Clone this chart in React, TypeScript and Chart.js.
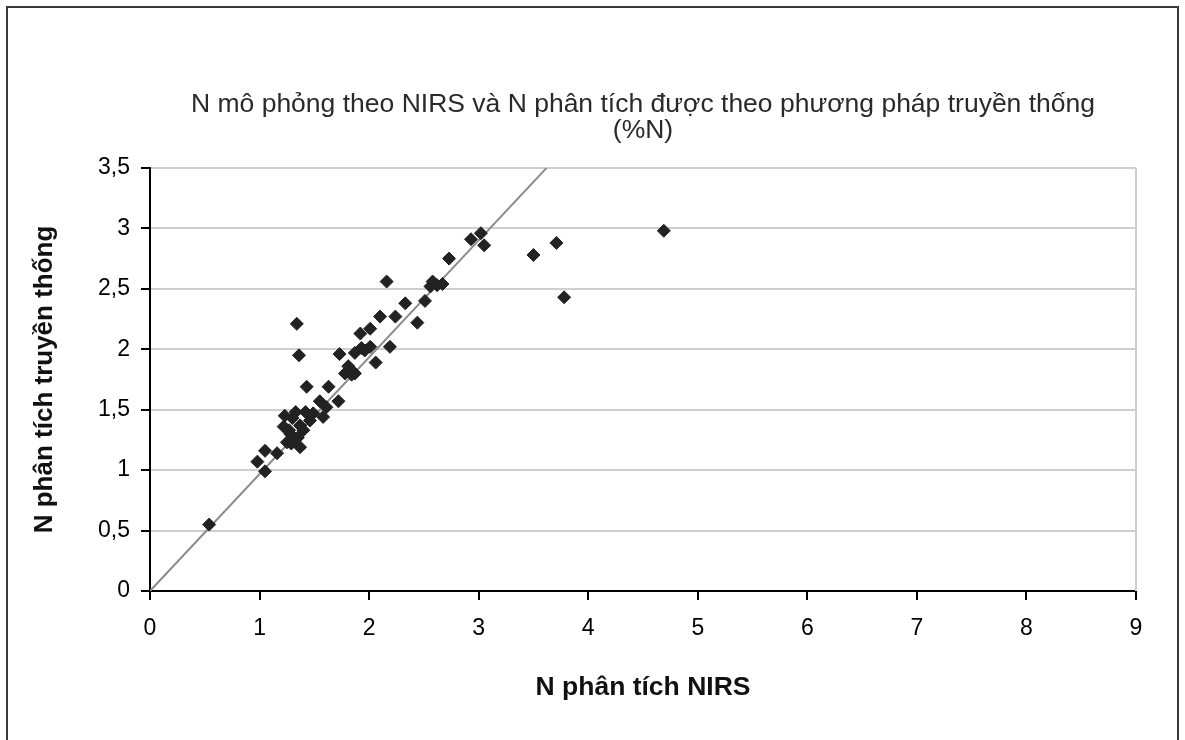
import React, { useEffect, useRef } from "react";
import { Chart, registerables } from "chart.js";

Chart.register(...registerables);

const chartTitle = [
  "N mô phỏng theo NIRS và N phân tích được theo phương pháp truyền thống",
  "(%N)",
];
const xAxisTitle = "N phân tích NIRS";
const yAxisTitle = "N phân tích truyền thống";

const nirsValues = [
  0.54, 0.98, 1.05, 1.05, 1.16, 1.22, 1.23, 1.25, 1.28, 1.31, 1.33, 1.37, 1.37, 1.4, 1.35,
  1.34, 1.36, 1.42, 1.43, 1.46, 1.49, 1.55, 1.58, 1.61, 1.63, 1.72, 1.73, 1.78, 1.81, 1.84,
  1.87, 1.87, 1.92, 1.93, 2.01, 2.01, 2.06, 2.1, 2.16, 2.19, 2.24, 2.33, 2.44, 2.51, 2.56,
  2.58, 2.62, 2.67, 2.73, 2.93, 3.02, 3.05, 3.5, 3.71, 3.78, 4.69, 1.29, 1.3, 1.96, 1.27,
];
const traditionalValues = [
  0.55, 1.07, 0.99, 1.16, 1.14, 1.36, 1.45, 1.23, 1.3, 1.25, 1.48, 1.19, 1.37, 1.33, 1.27,
  2.21, 1.95, 1.48, 1.69, 1.41, 1.47, 1.57, 1.44, 1.52, 1.69, 1.57, 1.96, 1.8, 1.86, 1.79,
  1.8, 1.97, 2.13, 2.01, 2.02, 2.17, 1.89, 2.27, 2.56, 2.02, 2.27, 2.38, 2.22, 2.4, 2.52,
  2.56, 2.53, 2.54, 2.75, 2.91, 2.96, 2.86, 2.78, 2.88, 2.43, 2.98, 1.22, 1.43, 1.99, 1.33,
];

const refLineX = [0, 3.62];
const refLineY = [0, 3.5];

const xTicks = [0, 1, 2, 3, 4, 5, 6, 7, 8, 9];
const yTicks = [0, 0.5, 1, 1.5, 2, 2.5, 3, 3.5];
const yTickLabels = ["0", "0,5", "1", "1,5", "2", "2,5", "3", "3,5"];

const FONT = "'Liberation Sans', Arial, Helvetica, sans-serif";

const plotFrame = {
  id: "plotFrame",
  beforeDatasetsDraw(chart: any) {
    const { ctx, chartArea } = chart;
    ctx.save();
    ctx.strokeStyle = "#cfcfcf";
    ctx.lineWidth = 2;
    ctx.beginPath();
    ctx.moveTo(chartArea.right, chartArea.top);
    ctx.lineTo(chartArea.right, chartArea.bottom);
    ctx.stroke();
    ctx.restore();
  },
};

export default function App() {
  const ref = useRef<HTMLCanvasElement | null>(null);

  useEffect(() => {
    if (!ref.current) return;
    const points = nirsValues.map((x, i) => ({ x, y: traditionalValues[i] }));
    const line = refLineX.map((x, i) => ({ x, y: refLineY[i] }));
    const chart = new Chart(ref.current, {
      type: "scatter",
      data: {
        datasets: [
          {
            label: "N",
            data: points,
            pointStyle: "rectRot",
            pointRadius: 6.5,
            pointBackgroundColor: "#222222",
            pointBorderColor: "#222222",
            pointBorderWidth: 1,
            order: 1,
          },
          {
            label: "line",
            data: line,
            showLine: true,
            pointRadius: 0,
            borderColor: "#8a8a8a",
            borderWidth: 2,
            order: 2,
          } as any,
        ],
      },
      plugins: [plotFrame],
      options: {
        animation: false,
        responsive: false,
        events: [],
        layout: { padding: { left: 10, right: 49, top: 0, bottom: 0 } },
        plugins: {
          legend: { display: false },
          tooltip: { enabled: false },
          title: {
            display: true,
            text: chartTitle,
            fullSize: false,
            color: "#2a2a2a",
            font: { family: FONT, size: 26.5, weight: "normal", lineHeight: 0.98 },
            padding: { top: 92, bottom: 24 },
          },
        },
        scales: {
          x: {
            type: "linear",
            min: 0,
            max: 9,
            afterFit: (s: any) => {
              s.height = 149;
            },
            afterBuildTicks: (s: any) => {
              s.ticks = xTicks.map((v) => ({ value: v }));
            },
            grid: {
              drawOnChartArea: false,
              tickColor: "#000",
              tickLength: 9,
              lineWidth: 2,
            },
            border: { color: "#000", width: 2 },
            ticks: {
              color: "#000",
              padding: 15,
              font: { family: FONT, size: 23 },
              callback: (v: any) => String(v),
            },
            title: {
              display: true,
              text: xAxisTitle,
              color: "#111",
              font: { family: FONT, size: 26.5, weight: "bold" },
              padding: { top: 0, bottom: 36 },
            },
          },
          y: {
            type: "linear",
            min: 0,
            max: 3.5,
            afterFit: (s: any) => {
              s.width = 140;
            },
            afterBuildTicks: (s: any) => {
              s.ticks = yTicks.map((v) => ({ value: v }));
            },
            grid: {
              color: "#cfcfcf",
              lineWidth: 2,
              tickColor: "#000",
              tickLength: 9,
            },
            border: { color: "#000", width: 2 },
            ticks: {
              color: "#000",
              padding: 11,
              font: { family: FONT, size: 23 },
              callback: (v: any) => {
                const i = yTicks.indexOf(Number(v));
                return i >= 0 ? yTickLabels[i] : "";
              },
            },
            title: {
              display: true,
              text: yAxisTitle,
              color: "#111",
              font: { family: FONT, size: 26, weight: "bold" },
              padding: { top: 19, bottom: 0 },
            },
          },
        },
      },
    });
    return () => chart.destroy();
  }, []);

  return (
    <div style={{ position: "absolute", left: 0, top: 0, width: 1185, height: 740, overflow: "hidden", background: "#fff" }}>
      <div
        style={{
          position: "absolute",
          left: 6,
          top: 6,
          width: 1169,
          height: 760,
          border: "2px solid #3a3a3a",
          borderBottom: "none",
          boxSizing: "content-box",
        }}
      />
      <canvas ref={ref} width={1185} height={740} style={{ position: "absolute", left: 0, top: 0, display: "block" }} />
    </div>
  );
}
